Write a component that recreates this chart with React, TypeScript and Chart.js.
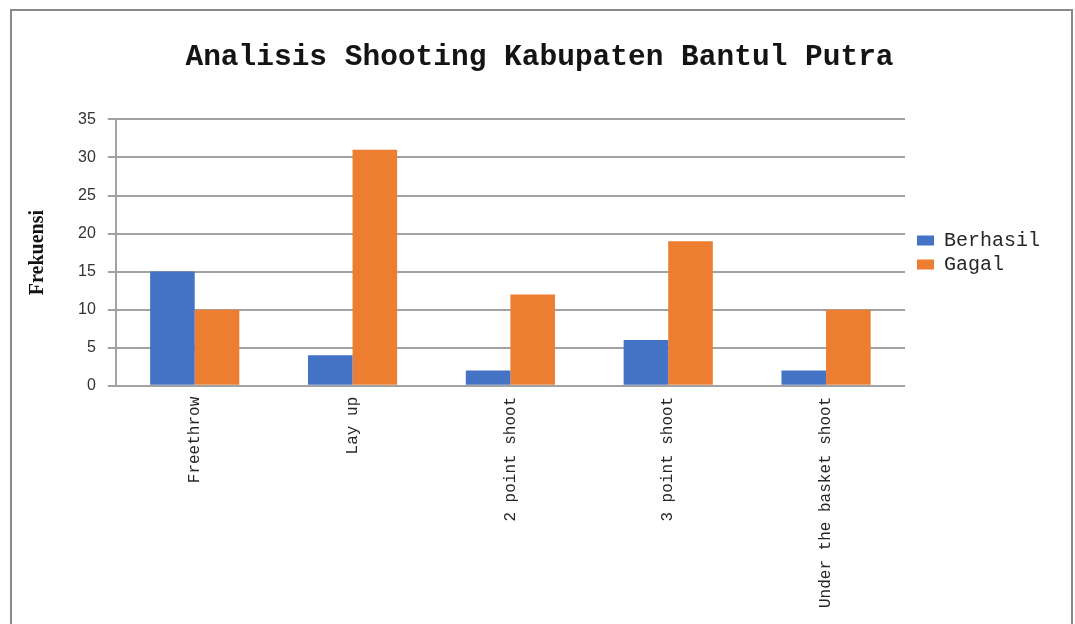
import React, { useEffect, useRef } from "react";
import { Chart, registerables } from "chart.js";

Chart.register(...registerables);

const chartTitle = "Analisis Shooting Kabupaten Bantul Putra";
const yAxisTitle = "Frekuensi";
const categories = ["Freethrow", "Lay up", "2 point shoot", "3 point shoot", "Under the basket shoot"];
const seriesNames = ["Berhasil", "Gagal"];
const berhasil = [15, 4, 2, 6, 2];
const gagal = [10, 31, 12, 19, 10];
const yMin = 0;
const yMax = 35;
const yStep = 5;

const BLUE = "#4472C4";
const ORANGE = "#ED7D31";
const GRID = "#a2a2a2";

const boxPlacer = {
  id: "boxPlacer",
  afterLayout(chart: any) {
    const lg = chart.legend;
    const ca = chart.chartArea;
    if (lg && ca) {
      lg.left += 8;
      lg.right += 8;
      lg.top = ca.top;
      lg.bottom = ca.bottom;
      lg.height = ca.bottom - ca.top;
    }
    const tb = chart.titleBlock;
    if (tb) {
      tb.left += 10.5;
      tb.right += 10.5;
    }
  },
};

export default function App() {
  const ref = useRef<HTMLCanvasElement | null>(null);

  useEffect(() => {
    if (!ref.current) return;
    const chart = new Chart(ref.current, {
      type: "bar",
      data: {
        labels: categories,
        datasets: [
          { label: seriesNames[0], data: berhasil, backgroundColor: BLUE, borderWidth: 0, categoryPercentage: 0.565, barPercentage: 1 },
          { label: seriesNames[1], data: gagal, backgroundColor: ORANGE, borderWidth: 0, categoryPercentage: 0.565, barPercentage: 1 },
        ],
      },
      plugins: [boxPlacer],
      options: {
        responsive: false,
        animation: false,
        devicePixelRatio: 1,
        layout: { padding: { left: 16, right: 33, top: 0, bottom: 13 } },
        plugins: {
          title: {
            display: true,
            text: chartTitle,
            color: "#141414",
            font: { family: "'Liberation Mono', 'DejaVu Sans Mono', monospace", size: 29.5, weight: "bold" },
            padding: { top: 40, bottom: 44 },
          },
          legend: {
            position: "right",
            labels: {
              boxWidth: 17,
              boxHeight: 10,
              padding: 4,
              color: "#262626",
              font: { family: "'Liberation Mono', 'DejaVu Sans Mono', monospace", size: 20 },
            },
          },
          tooltip: { enabled: false },
        },
        scales: {
          x: {
            grid: { display: false },
            border: { display: true, color: GRID, width: 2 },
            ticks: {
              maxRotation: 90,
              minRotation: 90,
              padding: 3,
              color: "#262626",
              font: { family: "'Liberation Mono', 'DejaVu Sans Mono', monospace", size: 16 },
            },
          },
          y: {
            min: yMin,
            max: yMax,
            grid: { color: GRID, lineWidth: 2, drawTicks: true, tickLength: 8 },
            border: { display: true, color: GRID, width: 2 },
            ticks: {
              stepSize: yStep,
              padding: 12,
              color: "#333333",
              font: { family: "'Liberation Sans', Arial, sans-serif", size: 16 },
            },
            title: {
              display: true,
              text: yAxisTitle,
              color: "#141414",
              font: { family: "'Liberation Serif', 'DejaVu Serif', serif", size: 20, weight: "bold" },
              padding: { top: 10, bottom: 16 },
            },
          },
        },
      },
    });
    return () => chart.destroy();
  }, []);

  return (
    <div style={{ position: "fixed", left: 0, top: 0, width: 1075, height: 624, overflow: "hidden", background: "#ffffff" }}>
      <div
        style={{
          position: "absolute",
          left: 10,
          top: 9,
          width: 1063,
          height: 660,
          border: "2px solid #8a8a8a",
          boxSizing: "border-box",
        }}
      />
      <canvas ref={ref} width={1075} height={624} style={{ position: "absolute", left: 0, top: 0, display: "block" }} />
    </div>
  );
}
